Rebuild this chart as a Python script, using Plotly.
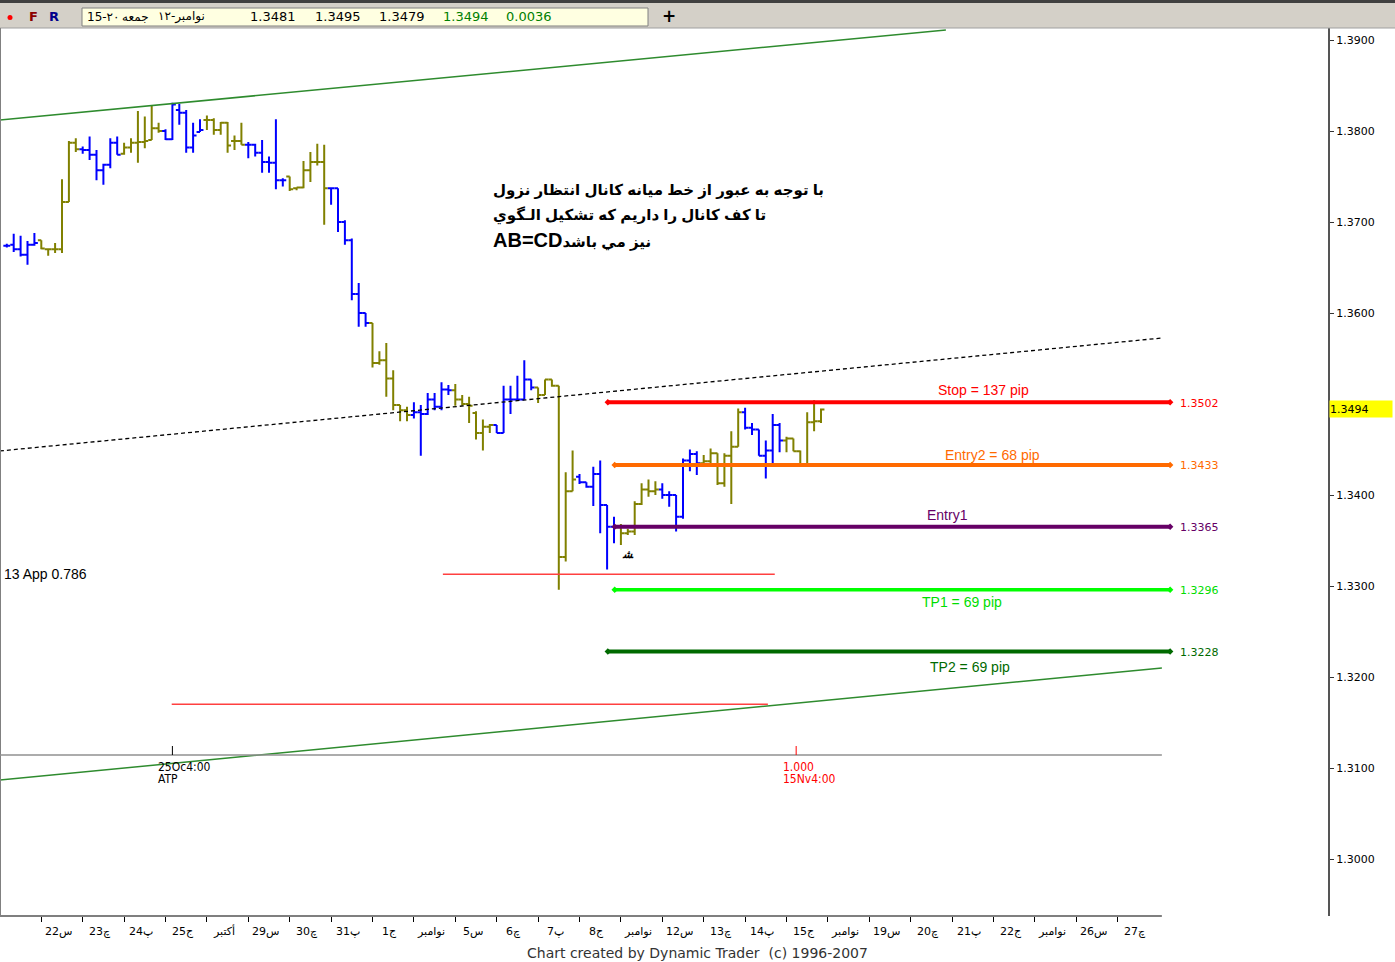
import plotly.graph_objects as go

# ---------------- data ----------------
bar_n = list(range(1, 120))
bar_open = [1.3674, 1.3675, 1.3670, 1.3664, 1.3675, 1.3680, 1.3670, 1.3670, 1.3670, 1.3722,
            1.3787, 1.3780, 1.3779, 1.3774, 1.3757, 1.3763, 1.3787, 1.3775, 1.3782, 1.3787,
            1.3788, 1.3790, 1.3803, 1.3800, 1.3791, 1.3823, 1.3820, 1.3782, 1.3799, 1.3812,
            1.3812, 1.3801, 1.3809, 1.3789, 1.3789, 1.3785, 1.3785, 1.3776, 1.3766, 1.3765,
            1.3746, 1.3750, 1.3737, 1.3738, 1.3757, 1.3766, 1.3766, 1.3737, 1.3737, 1.3700,
            1.3680, 1.3621, 1.3600, 1.3589, 1.3545, 1.3548, 1.3528, 1.3499, 1.3493, 1.3488,
            1.3491, 1.3489, 1.3505, 1.3497, 1.3516, 1.3515, 1.3505, 1.3500, 1.3490, 1.3468,
            1.3475, 1.3477, 1.3468, 1.3505, 1.3505, 1.3505, 1.3527, 1.3518, 1.3510, 1.3527,
            1.3520, 1.3332, 1.3404, 1.3420, 1.3414, 1.3409, 1.3423, 1.3389, 1.3365, 1.3365,
            1.3358, 1.3360, 1.3390, 1.3406, 1.3404, 1.3406, 1.3400, 1.3400, 1.3376, 1.3438,
            1.3445, 1.3435, 1.3437, 1.3446, 1.3413, 1.3443, 1.3453, 1.3491, 1.3474, 1.3472,
            1.3443, 1.3449, 1.3477, 1.3460, 1.3462, 1.3448, 1.3434, 1.3480, 1.3481]
bar_high = [1.3676, 1.3687, 1.3685, 1.3679, 1.3688, 1.3680, 1.3671, 1.3677, 1.3747, 1.3789,
            1.3792, 1.3783, 1.3794, 1.3779, 1.3764, 1.3792, 1.3794, 1.3787, 1.3792, 1.3822,
            1.3816, 1.3828, 1.3809, 1.3802, 1.3831, 1.3830, 1.3823, 1.3809, 1.3813, 1.3817,
            1.3814, 1.3810, 1.3810, 1.3795, 1.3809, 1.3788, 1.3786, 1.3790, 1.3772, 1.3813,
            1.3748, 1.3750, 1.3738, 1.3767, 1.3777, 1.3786, 1.3785, 1.3737, 1.3737, 1.3702,
            1.3682, 1.3633, 1.3600, 1.3589, 1.3558, 1.3567, 1.3537, 1.3499, 1.3497, 1.3502,
            1.3499, 1.3512, 1.3512, 1.3524, 1.3521, 1.3522, 1.3510, 1.3508, 1.3492, 1.3483,
            1.3478, 1.3477, 1.3520, 1.3520, 1.3531, 1.3548, 1.3527, 1.3518, 1.3527, 1.3527,
            1.3520, 1.3425, 1.3449, 1.3423, 1.3414, 1.3431, 1.3438, 1.3389, 1.3376, 1.3368,
            1.3363, 1.3393, 1.3413, 1.3417, 1.3415, 1.3413, 1.3404, 1.3400, 1.3440, 1.3450,
            1.3448, 1.3444, 1.3451, 1.3446, 1.3446, 1.3470, 1.3495, 1.3496, 1.3479, 1.3472,
            1.3460, 1.3489, 1.3479, 1.3464, 1.3462, 1.3449, 1.3491, 1.3504, 1.3495]
bar_low = [1.3672, 1.3667, 1.3662, 1.3653, 1.3674, 1.3670, 1.3663, 1.3666, 1.3666, 1.3722,
           1.3777, 1.3775, 1.3768, 1.3746, 1.3741, 1.3759, 1.3774, 1.3774, 1.3776, 1.3765,
           1.3781, 1.3790, 1.3798, 1.3790, 1.3790, 1.3807, 1.3776, 1.3776, 1.3799, 1.3801,
           1.3796, 1.3796, 1.3776, 1.3779, 1.3785, 1.3770, 1.3772, 1.3754, 1.3754, 1.3736,
           1.3739, 1.3734, 1.3735, 1.3737, 1.3744, 1.3762, 1.3697, 1.3719, 1.3689, 1.3675,
           1.3614, 1.3585, 1.3585, 1.3540, 1.3543, 1.3508, 1.3493, 1.3481, 1.3481, 1.3484,
           1.3443, 1.3488, 1.3493, 1.3493, 1.3510, 1.3498, 1.3498, 1.3479, 1.3461, 1.3449,
           1.3468, 1.3468, 1.3468, 1.3489, 1.3504, 1.3505, 1.3515, 1.3501, 1.3510, 1.3519,
           1.3296, 1.3327, 1.3404, 1.3412, 1.3408, 1.3388, 1.3358, 1.3318, 1.3347, 1.3345,
           1.3356, 1.3356, 1.3389, 1.3398, 1.3400, 1.3396, 1.3387, 1.3360, 1.3374, 1.3426,
           1.3422, 1.3431, 1.3435, 1.3411, 1.3409, 1.3390, 1.3453, 1.3472, 1.3466, 1.3443,
           1.3418, 1.3433, 1.3447, 1.3447, 1.3448, 1.3434, 1.3434, 1.3470, 1.3479]
bar_close = [1.3674, 1.3670, 1.3664, 1.3675, 1.3677, 1.3671, 1.3670, 1.3670, 1.3722, 1.3787,
             1.3780, 1.3779, 1.3774, 1.3757, 1.3763, 1.3787, 1.3774, 1.3782, 1.3787, 1.3788,
             1.3789, 1.3803, 1.3800, 1.3791, 1.3829, 1.3820, 1.3782, 1.3795, 1.3801, 1.3812,
             1.3801, 1.3809, 1.3784, 1.3789, 1.3785, 1.3785, 1.3776, 1.3766, 1.3765, 1.3746,
             1.3746, 1.3736, 1.3738, 1.3757, 1.3766, 1.3766, 1.3737, 1.3737, 1.3700, 1.3680,
             1.3621, 1.3600, 1.3589, 1.3545, 1.3548, 1.3528, 1.3499, 1.3493, 1.3488, 1.3491,
             1.3489, 1.3505, 1.3497, 1.3516, 1.3515, 1.3505, 1.3500, 1.3498, 1.3468, 1.3475,
             1.3477, 1.3468, 1.3505, 1.3505, 1.3505, 1.3527, 1.3518, 1.3510, 1.3527, 1.3520,
             1.3332, 1.3404, 1.3417, 1.3414, 1.3409, 1.3423, 1.3389, 1.3365, 1.3365, 1.3358,
             1.3360, 1.3390, 1.3406, 1.3404, 1.3406, 1.3400, 1.3400, 1.3376, 1.3438, 1.3445,
             1.3435, 1.3437, 1.3446, 1.3413, 1.3443, 1.3453, 1.3491, 1.3474, 1.3472, 1.3443,
             1.3449, 1.3477, 1.3460, 1.3462, 1.3448, 1.3434, 1.3480, 1.3481, 1.3494]

bars_per_day = 6
day_index = list(range(1, 28))
day_labels = ["22س", "23چ", "24پ", "25ج", "أكتبر", "29س", "30چ", "31پ", "1ج", "نوامبر",
              "5س", "6چ", "7پ", "8ج", "نوامبر", "12س", "13چ", "14پ", "15ج", "نوامبر",
              "19س", "20چ", "21پ", "22ج", "نوامبر", "26س", "27چ"]

y_ticks = [1.30, 1.31, 1.32, 1.33, 1.34, 1.35, 1.36, 1.37, 1.38, 1.39]

level_labels = ["Stop = 137 pip", "Entry2 = 68 pip", "Entry1", "TP1 = 69 pip", "TP2 = 69 pip"]
level_prices = [1.3502, 1.3433, 1.3365, 1.3296, 1.3228]
level_start = [88.1, 89.1, 89.1, 89.1, 88.1]
level_end = 169.6

channel_upper_x = [0.0, 137.1]
channel_upper_y = [1.38121, 1.39110]
channel_mid_x = [0.0, 168.4]
channel_mid_y = [1.34484, 1.35725]
channel_lower_x = [0.0, 168.4]
channel_lower_y = [1.30868, 1.32099]

app_prices = [1.3313, 1.3170]
app_start = [64.2, 24.9]
app_end = [112.3, 111.3]

last_price = 1.3494
header_values = ["1.3481", "1.3495", "1.3479"]
header_values_green = ["1.3494", "0.0036"]

# ---------------- layout helpers ----------------
W, H = 1395, 962
L, R, T, B = 0, 67, 28, 46
PW, PH = W - L - R, H - T - B
PX_PER_BAR = 6.9
x_range = [0.1 / PX_PER_BAR, (PW + 0.1) / PX_PER_BAR]
y_top = 1.39 + 12 / 9100
y_bot = 1.39 - 876 / 9100


def px(x):
    return (x - L) / PW


def py(y):
    return (H - B - y) / PH


def note(x, y, text, size=12, color="#000", family="DejaVu Sans", xanchor="center",
         xref="paper", yref="paper", **kw):
    d = dict(x=x, y=y, xref=xref, yref=yref, text=text, showarrow=False, xanchor=xanchor,
             yanchor="middle", font=dict(family=family, size=size, color=color))
    d.update(kw)
    return d


fig = go.Figure()

# OHLC bars: colour alternates by day
for parity, col in [(0, "#0000FF"), (1, "#808000")]:
    idx = [i for i, n in enumerate(bar_n) if (n // bars_per_day) % 2 == parity]
    fig.add_trace(go.Ohlc(
        x=[bar_n[i] for i in idx],
        open=[bar_open[i] for i in idx],
        high=[bar_high[i] for i in idx],
        low=[bar_low[i] for i in idx],
        close=[bar_close[i] for i in idx],
        increasing=dict(line=dict(color=col, width=2)),
        decreasing=dict(line=dict(color=col, width=2)),
        tickwidth=0.5, hoverinfo="skip", showlegend=False))

# channel lines
fig.add_trace(go.Scatter(x=channel_upper_x, y=channel_upper_y, mode="lines",
                         line=dict(color="#2E8B2E", width=1.5), hoverinfo="skip", showlegend=False))
fig.add_trace(go.Scatter(x=channel_lower_x, y=channel_lower_y, mode="lines",
                         line=dict(color="#2E8B2E", width=1.5), hoverinfo="skip", showlegend=False))
fig.add_trace(go.Scatter(x=channel_mid_x, y=channel_mid_y, mode="lines",
                         line=dict(color="#000000", width=1.3, dash="4px,3px"), hoverinfo="skip",
                         showlegend=False))

# thin red lines
for p, s, e in zip(app_prices, app_start, app_end):
    fig.add_trace(go.Scatter(x=[s, e], y=[p, p], mode="lines",
                             line=dict(color="#FF4040", width=1.5), hoverinfo="skip", showlegend=False))

# level lines
level_colors = ["#FF0000", "#FF6A00", "#660066", "#00FF00", "#006A00"]
level_text_colors = ["#FF0000", "#FF6A00", "#660066", "#00DD00", "#006A00"]
level_widths = [4, 4, 4, 3.5, 4]
level_label_x = [142.5, 143.8, 137.4, 139.4, 140.6]
level_label_shift = [12, 10, 12, -12, -15]
annotations = []
for lab, p, s, c, tc, w, lx, sh in zip(level_labels, level_prices, level_start, level_colors,
                                        level_text_colors, level_widths, level_label_x, level_label_shift):
    fig.add_trace(go.Scatter(x=[s, level_end], y=[p, p], mode="lines",
                             line=dict(color=c, width=w), hoverinfo="skip", showlegend=False))
    fig.add_trace(go.Scatter(x=[s, level_end], y=[p, p], mode="markers",
                             marker=dict(color=c, size=5, symbol="diamond"), hoverinfo="skip",
                             showlegend=False))
    annotations.append(note(lx, p, lab, size=14, color=tc, family="Liberation Sans, Arial",
                            xref="x", yref="y", yshift=sh))
    annotations.append(note((1178 + 0.1) / PX_PER_BAR, p, f"{p:.4f}", size=11, color=tc,
                            xanchor="left", xref="x", yref="y", yshift=-1))

# day labels
for d, lab in zip(day_index, day_labels):
    annotations.append(note(d * bars_per_day + 2.5, py(931), lab, size=11, xref="x"))

# last price box
annotations.append(note(px(1329), last_price, "1.3494", size=11, xanchor="left", yref="y",
                        align="left", width=62, height=16, bgcolor="#FFFF00", borderpad=0))

# Persian comment
persian_lines = ["با توجه به عبور از خط میانه کانال انتظار نزول",
                 "تا کف کانال را داریم که تشکیل الـگوي",
                 "<span style='font-size:20px'>AB=CD</span>نیز مي باشد"]
for i, t in enumerate(persian_lines):
    annotations.append(note(px(491), py(190 + 25 * i), "<b>" + t + "</b>", size=15,
                            family="Liberation Sans, DejaVu Sans", xanchor="left"))

# misc texts
narrow = "Liberation Sans Narrow, DejaVu Sans Condensed"
annotations += [
    note(px(2), app_prices[0], "13 App 0.786", size=14, family="Liberation Sans, Arial",
         xanchor="left", yref="y"),
    note(px(628), py(554), "<b><i>ﺸ</i></b>", size=11),
    note(px(156), py(767), "25Oc4:00", size=12, family=narrow, xanchor="left"),
    note(px(156), py(779), "ATP", size=12, family=narrow, xanchor="left"),
    note(px(781), py(767), "1.000", size=12, family=narrow, color="#FF0000", xanchor="left"),
    note(px(781), py(779), "15Nv4:00", size=12, family=narrow, color="#FF0000", xanchor="left"),
    note(px(697), py(953), "Chart created by Dynamic Trader\u00a0 (c) 1996-2007", size=14, color="#333"),
    # header
    note(px(33), py(17), "<b>F</b>", size=13, color="#8B0000"),
    note(px(54), py(17), "<b>R</b>", size=13, color="#00008B"),
    note(px(669), py(16), "<b>+</b>", size=17),
    note(px(85), py(17), "\u202d15-۲۰\u202c", size=12, xanchor="left"),
    note(px(120), py(17), "جمعه", size=12, xanchor="left"),
    note(px(156), py(17), "نوامبر-۱۲", size=12, xanchor="left"),
]
for i, v in enumerate(header_values):
    annotations.append(note(px(248 + 64.5 * i), py(17), v, size=13, xanchor="left"))
for i, v in enumerate(header_values_green):
    annotations.append(note(px(441 + 63 * i), py(17), v, size=13, color="#008000", xanchor="left"))

shapes = [
    # header bar
    dict(type="rect", xref="paper", yref="paper", x0=px(0), x1=px(W), y0=py(28), y1=py(0),
         fillcolor="#D4D0C8", line=dict(width=0), layer="below"),
    dict(type="line", xref="paper", yref="paper", x0=px(0), x1=px(W), y0=py(1.5), y1=py(1.5),
         line=dict(color="#404040", width=3)),
    dict(type="line", xref="paper", yref="paper", x0=px(0), x1=px(W), y0=py(28), y1=py(28),
         line=dict(color="#A0A0A0", width=1)),
    dict(type="rect", xref="paper", yref="paper", x0=px(82), x1=px(648), y0=py(26), y1=py(8),
         fillcolor="#FFFFE1", line=dict(color="#808080", width=1)),
    dict(type="circle", xref="paper", yref="paper", x0=px(7.5), x1=px(12.5), y0=py(20), y1=py(15),
         fillcolor="#FF0000", line=dict(width=0)),
    # bottom axis line & left border
    dict(type="line", xref="x", yref="paper", x0=0, x1=168.4, y0=0, y1=0,
         line=dict(color="#555", width=1.5)),
    dict(type="line", xref="paper", yref="paper", x0=px(0.5), x1=px(0.5), y0=0, y1=1,
         line=dict(color="#808080", width=1)),
    # ATP time line
    dict(type="line", xref="x", yref="paper", x0=0, x1=168.4, y0=py(755), y1=py(755),
         line=dict(color="#909090", width=1.5)),
    dict(type="line", xref="x", yref="paper", x0=25, x1=25, y0=py(746), y1=py(755),
         line=dict(color="#000", width=1)),
    dict(type="line", xref="x", yref="paper", x0=115.4, x1=115.4, y0=py(746), y1=py(755),
         line=dict(color="#FF0000", width=1)),
]

fig.update_layout(
    width=W, height=H, margin=dict(l=L, r=R, t=T, b=B),
    paper_bgcolor="#FFFFFF", plot_bgcolor="#FFFFFF",
    showlegend=False, hovermode=False,
    xaxis=dict(range=x_range, tickmode="array", tickvals=[d * bars_per_day for d in day_index],
               ticktext=["" for _ in day_index], ticks="outside", ticklen=5, tickcolor="#000",
               showgrid=False, zeroline=False, showline=False, rangeslider=dict(visible=False),
               fixedrange=True),
    yaxis=dict(range=[y_bot, y_top], side="right", tickmode="array", tickvals=y_ticks,
               ticktext=["" if abs(v - 1.35) < 1e-9 else f"{v:.4f}" for v in y_ticks],
               ticks="outside", ticklen=4, tickcolor="#333",
               showgrid=False, zeroline=False, showline=True, linecolor="#555", linewidth=2,
               tickfont=dict(family="DejaVu Sans", size=11, color="#000"), fixedrange=True),
    annotations=annotations, shapes=shapes,
)

fig.write_html("out.html", config={"displayModeBar": False},
               post_script="document.body.style.margin='0';")
